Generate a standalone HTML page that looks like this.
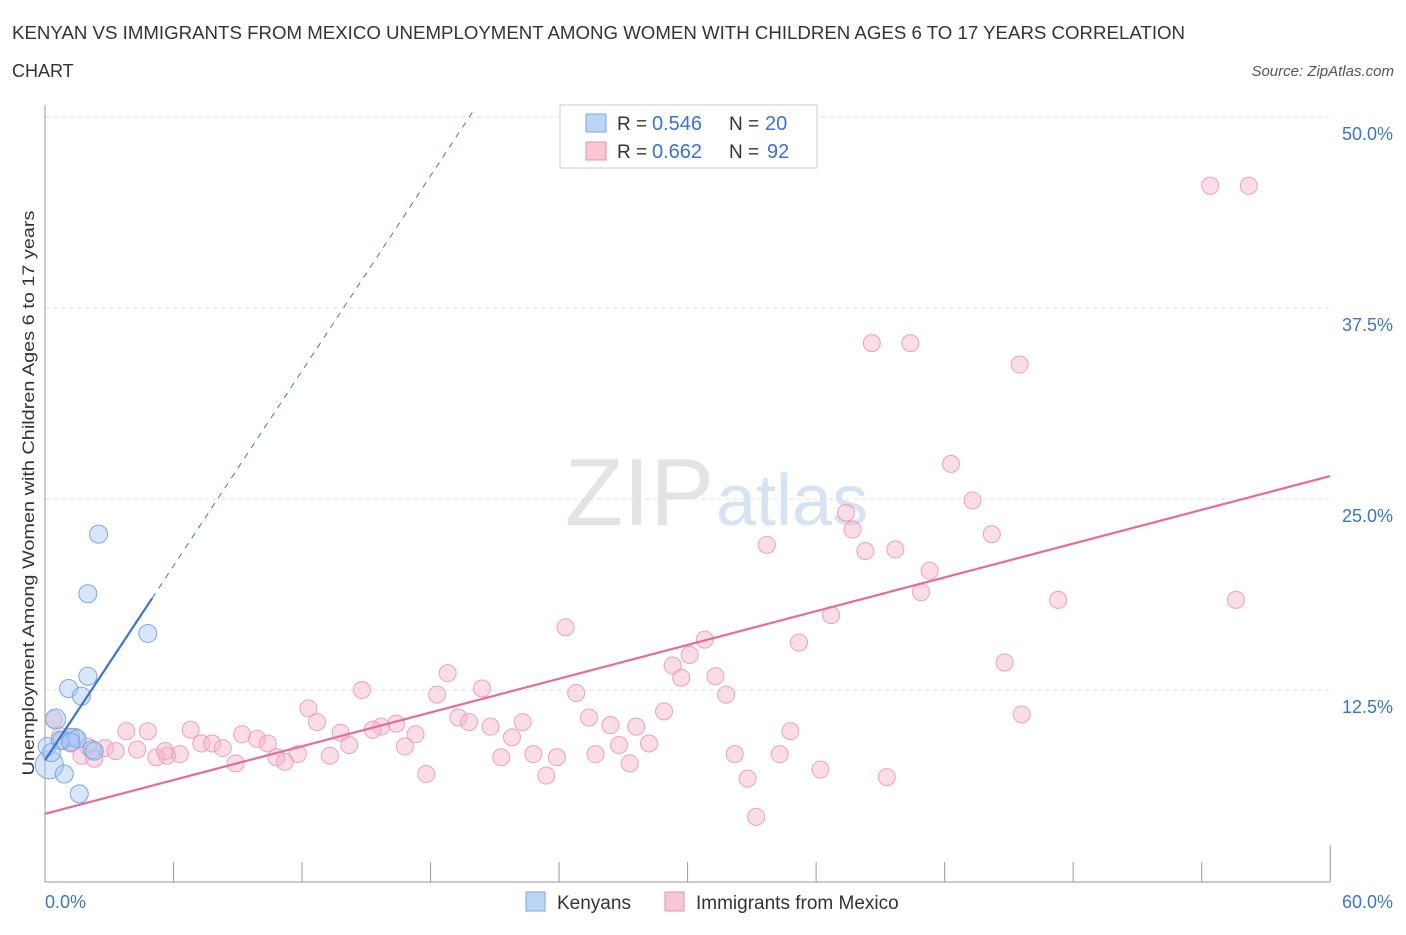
<!DOCTYPE html>
<html><head><meta charset="utf-8"><style>
body{margin:0;background:#fff;font-family:"Liberation Sans",sans-serif;}
svg text{font-family:"Liberation Sans",sans-serif;}
</style></head><body>
<svg id="chart" width="1406" height="930" xmlns="http://www.w3.org/2000/svg">
<text x="12" y="39" font-size="18" fill="#333" textLength="1173" lengthAdjust="spacingAndGlyphs">KENYAN VS IMMIGRANTS FROM MEXICO UNEMPLOYMENT AMONG WOMEN WITH CHILDREN AGES 6 TO 17 YEARS CORRELATION</text>
<text x="12" y="77" font-size="18" fill="#333">CHART</text>
<text x="1394" y="76" font-size="15" fill="#555" font-style="italic" text-anchor="end">Source: ZipAtlas.com</text>
<text x="714" y="525" font-size="96" fill="#e4e4e4" text-anchor="end" font-family="Liberation Serif">ZIP</text>
<text x="716" y="525" font-size="72" fill="#d5e3f3">atlas</text>
<g id="grid"></g>
<line x1="45" y1="882" x2="1330" y2="882" stroke="#999"/>
<line x1="45" y1="105" x2="45" y2="882" stroke="#999"/>
<text transform="translate(34,493) rotate(-90)" font-size="17" fill="#333" text-anchor="middle" textLength="565" lengthAdjust="spacingAndGlyphs">Unemployment Among Women with Children Ages 6 to 17 years</text>
<text x="45" y="908" font-size="18" fill="#3a74d0">0.0%</text>
<text x="1393" y="908" font-size="18" fill="#3a74d0" text-anchor="end">60.0%</text>
<g id="marks"></g>
<g>
<rect x="560" y="105" width="257" height="63" fill="#fff" stroke="#ccc"/>
<rect x="586" y="114" width="20" height="18" fill="#bcd5f7" stroke="#7aa7e6"/>
<rect x="586" y="142" width="20" height="18" fill="#f9c6d6" stroke="#ec8fae"/>
<text x="617" y="130" font-size="19" fill="#333">R =</text>
<text x="652" y="130" font-size="20" fill="#3a74d0">0.546</text>
<text x="729" y="130" font-size="19" fill="#333">N =</text>
<text x="765" y="130" font-size="20" fill="#3a74d0">20</text>
<text x="617" y="158" font-size="19" fill="#333">R =</text>
<text x="652" y="158" font-size="20" fill="#3a74d0">0.662</text>
<text x="729" y="158" font-size="19" fill="#333">N =</text>
<text x="767" y="158" font-size="20" fill="#3a74d0">92</text>
</g>
<g>
<rect x="526" y="892" width="19" height="19" fill="#bcd5f7" stroke="#7aa7e6"/>
<text x="557" y="909" font-size="19" fill="#333">Kenyans</text>
<rect x="665" y="892" width="19" height="19" fill="#f9c6d6" stroke="#ec8fae"/>
<text x="696" y="909" font-size="19" fill="#333">Immigrants from Mexico</text>
</g>
</svg>
<script>
const yTicks=[12.5,25,37.5,50];
const yTickLabels=["12.5%","25.0%","37.5%","50.0%"];
const kenX=[0.2,0.1,0.5,0.8,1.1,0.9,1.4,1.2,1.7,2.0,2.0,2.5,1.6,2.2,4.8,0.7,1.5,0.3,1.2,2.3];
const kenY=[7.6,8.8,10.6,9.2,12.6,7.0,9.4,9.4,12.1,13.4,18.8,22.7,5.7,8.6,16.2,9.2,9.3,8.4,9.1,8.5];
const kenSize=[14,9,10,9,9,9,9,9,9,9,9,9,9,9,9,9,9,9,9,9];
const mexX=[54.4,56.2,38.6,40.4,45.5,42.3,43.3,37.4,37.7,44.2,33.7,38.3,39.7,41.3,40.9,47.3,55.6,24.3,36.7,30.8,35.2,30.1,29.3,29.7,44.8,31.3,18.8,14.8,20.4,24.8,18.3,31.8,12.3,28.9,45.6,19.3,12.7,22.3,25.4,19.8,26.4,27.6,20.8,0.4,6.8,3.8,4.8,16.4,15.7,15.3,9.2,13.8,17.3,9.9,10.4,7.3,7.8,8.3,21.8,14.2,16.8,26.8,28.2,34.8,2.0,2.8,3.3,4.3,5.7,6.3,5.2,11.8,10.8,11.2,13.3,21.3,22.8,23.9,25.7,32.2,34.3,8.9,27.3,17.8,23.4,32.8,36.2,39.3,33.2,5.6,1.7,2.3,0.7,1.2];
const mexY=[45.5,45.5,35.2,35.2,33.8,27.3,24.9,24.1,23.0,22.7,22.0,21.6,21.7,20.3,18.9,18.4,18.4,16.6,17.4,15.8,15.6,14.8,14.1,13.3,14.3,13.4,13.6,12.5,12.6,12.3,12.2,12.2,11.3,11.1,10.9,10.7,10.4,10.4,10.7,10.4,10.2,10.1,10.1,10.6,9.9,9.8,9.8,10.3,10.1,9.9,9.6,9.7,9.6,9.3,9.0,9.0,9.0,8.7,9.4,8.9,8.8,8.9,9.0,9.8,8.8,8.7,8.5,8.6,8.2,8.3,8.1,8.3,8.1,7.8,8.2,8.1,8.3,8.1,8.3,8.3,8.3,7.7,7.7,7.0,6.9,6.7,7.3,6.8,4.2,8.5,8.2,8.0,9.5,9.0];
const X=v=>45+v*21.42, Y=v=>881-v*15.28;
const NS="http://www.w3.org/2000/svg";
const grid=document.getElementById('grid'), marks=document.getElementById('marks');
function mk(p,tag,a){const e=document.createElementNS(NS,tag);for(const k in a)e.setAttribute(k,a[k]);p.appendChild(e);return e;}
yTicks.forEach((t,i)=>{
 const l=mk(grid,'line',{x1:45,x2:1330,y1:Y(t),y2:Y(t),stroke:'#ddd','stroke-dasharray':'4,4'});
 
 
 const tx=mk(grid,'text',{x:1393,y:Y(t)+23,'font-size':18,fill:'#3a74d0','text-anchor':'end'});
 tx.textContent=yTickLabels[i];
 
 
});
for(let i=1;i<=10;i++){const v=i*6;const l=mk(grid,'line',{x1:X(v),x2:X(v),y1:882,y2:i==10?845:862,stroke:'#999'});
 
 }
mexX.forEach((x,i)=>{const c=mk(marks,'circle',{cx:X(x),cy:Y(mexY[i]),r:8.5,fill:'rgba(246,180,202,0.45)',stroke:'#eea0ba','stroke-width':1});
 
 });
kenX.forEach((x,i)=>{const c=mk(marks,'circle',{cx:X(x),cy:Y(kenY[i]),r:kenSize[i],fill:'rgba(170,200,245,0.45)',stroke:'#7aa7e6','stroke-width':1});
 
 });
const pl=mk(marks,'line',{x1:X(0),y1:Y(4.4),x2:X(60),y2:Y(26.5),stroke:'#e8699a','stroke-width':2.2});


const bd=mk(marks,'line',{x1:X(5),y1:Y(18.5),x2:X(19.95),y2:Y(50.3),stroke:'#3a74d0','stroke-width':1,'stroke-dasharray':'6,6'});


const bl=mk(marks,'line',{x1:X(0),y1:Y(7.9),x2:X(5),y2:Y(18.5),stroke:'#3a74d0','stroke-width':2.2});


</script>
</body></html>
